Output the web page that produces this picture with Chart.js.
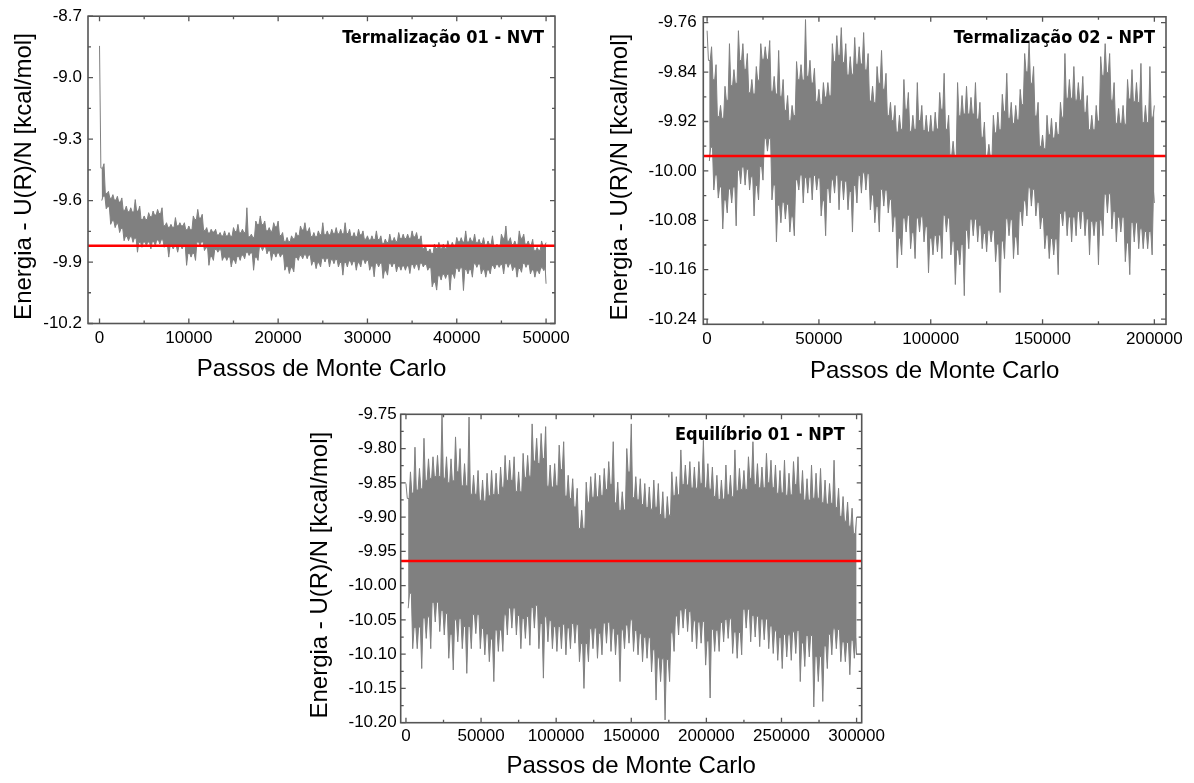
<!DOCTYPE html>
<html>
<head>
<meta charset="utf-8">
<script src="https://cdn.jsdelivr.net/npm/chart.js@4.4.1/dist/chart.umd.min.js"></script>
<style>
    html, body { margin: 0; padding: 0; background: #fff; }
    body { width: 1194px; height: 783px; position: relative; overflow: hidden; }
    canvas { position: absolute; }
</style>
</head>
<body>
<canvas id="nvt-chart" width="580" height="392" style="left:0px;top:0px"></canvas>
<canvas id="npt-chart" width="599" height="392" style="left:595px;top:0px"></canvas>
<canvas id="eq-chart" width="600" height="391" style="left:290px;top:392px"></canvas>
<script>
/**
 * Monte Carlo energy traces: upper / lower envelope read every N steps.
 */

// Termalização 01 - NVT, one sample every 500 steps (0 .. 50000)
const nvtStep = 500;
const nvtHi = [
    -8.845, -9.420, -9.555, -9.571, -9.579, -9.587, -9.627, -9.635, -9.595, -9.627,
    -9.675, -9.659, -9.651, -9.643, -9.635, -9.708, -9.716, -9.683, -9.708, -9.708,
    -9.724, -9.675, -9.643, -9.667, -9.732, -9.740, -9.740, -9.756, -9.748, -9.756,
    -9.732, -9.716, -9.740, -9.635, -9.764, -9.700, -9.675, -9.700, -9.732, -9.708,
    -9.700, -9.756, -9.780, -9.772, -9.756, -9.724, -9.708, -9.732, -9.756, -9.748,
    -9.708, -9.748, -9.740, -9.732, -9.740, -9.708, -9.740, -9.756, -9.740, -9.748,
    -9.772, -9.772, -9.748, -9.772, -9.788, -9.764, -9.780, -9.756, -9.764, -9.764,
    -9.748, -9.756, -9.772, -9.820, -9.836, -9.812, -9.804, -9.812, -9.796, -9.804,
    -9.780, -9.781, -9.748, -9.781, -9.764, -9.789, -9.781, -9.797, -9.772, -9.813,
    -9.764, -9.724, -9.781, -9.797, -9.748, -9.764, -9.797, -9.789, -9.829, -9.797,
    -9.805,
];
const nvtLo = [
    -9.600, -9.640, -9.716, -9.732, -9.756, -9.796, -9.796, -9.804, -9.852, -9.828,
    -9.820, -9.836, -9.820, -9.812, -9.828, -9.876, -9.836, -9.852, -9.836, -9.916,
    -9.876, -9.892, -9.820, -9.844, -9.916, -9.892, -9.852, -9.892, -9.892, -9.924,
    -9.908, -9.892, -9.884, -9.868, -9.940, -9.892, -9.844, -9.860, -9.892, -9.876,
    -9.876, -9.940, -9.956, -9.948, -9.892, -9.884, -9.884, -9.916, -9.932, -9.924,
    -9.900, -9.924, -9.908, -9.924, -9.964, -9.924, -9.916, -9.940, -9.924, -9.908,
    -9.940, -9.972, -9.924, -9.980, -9.964, -9.924, -9.948, -9.940, -9.940, -9.956,
    -9.932, -9.940, -9.924, -9.940, -10.021, -10.037, -9.988, -9.980, -10.037, -9.980,
    -9.948, -10.039, -9.958, -9.974, -9.926, -9.958, -9.974, -9.958, -9.934, -9.926,
    -9.958, -9.926, -9.942, -9.974, -9.950, -9.926, -9.958, -9.974, -9.958, -9.942,
    -10.006,
];
const nvtMean = -9.82;

// Termalização 02 - NPT, one sample every 2000 steps (0 .. 200000)
const nptStep = 2000;
const nptHi = [
    -9.773, -9.799, -9.828, -9.894, -9.863, -9.794, -9.836, -9.773, -9.794, -9.810,
    -9.852, -9.831, -9.794, -9.799, -9.789, -9.847, -9.805, -9.852, -9.878, -9.894,
    -9.823, -9.828, -9.755, -9.821, -9.834, -9.868, -9.857, -9.857, -9.794, -9.781,
    -9.768, -9.794, -9.815, -9.784, -9.799, -9.776, -9.810, -9.863, -9.831, -9.805,
    -9.842, -9.889, -9.894, -9.910, -9.852, -9.873, -9.910, -9.857, -9.894, -9.910,
    -9.910, -9.905, -9.873, -9.842, -9.910, -9.952, -9.857, -9.878, -9.863, -9.881,
    -9.857, -9.889, -9.921, -9.957, -9.910, -9.905, -9.876, -9.842, -9.889, -9.894,
    -9.868, -9.810, -9.789, -9.831, -9.889, -9.942, -9.910, -9.915, -9.921, -9.889,
    -9.810, -9.852, -9.831, -9.857, -9.847, -9.878, -9.910, -9.894, -9.815, -9.794,
    -9.810, -9.857, -9.899, -9.894, -9.852, -9.836, -9.857, -9.826, -9.894, -9.831,
    -9.894,
];
const nptLo = [
    -9.984, -10.031, -10.044, -10.094, -10.068, -10.052, -10.089, -10.021, -10.023, -10.031,
    -10.073, -10.047, -10.015, -9.968, -10.047, -10.115, -10.084, -10.078, -10.099, -10.105,
    -10.031, -10.052, -10.036, -10.047, -10.031, -10.073, -10.105, -10.052, -10.036, -10.063,
    -10.047, -10.063, -10.099, -10.052, -10.036, -10.031, -10.063, -10.084, -10.099, -10.057,
    -10.068, -10.099, -10.157, -10.136, -10.099, -10.126, -10.142, -10.099, -10.115, -10.165,
    -10.136, -10.131, -10.142, -10.099, -10.136, -10.184, -10.152, -10.202, -10.126, -10.105,
    -10.115, -10.126, -10.131, -10.115, -10.147, -10.197, -10.142, -10.105, -10.142, -10.136,
    -10.089, -10.073, -10.057, -10.073, -10.094, -10.126, -10.142, -10.136, -10.168, -10.089,
    -10.105, -10.115, -10.105, -10.094, -10.105, -10.136, -10.105, -10.152, -10.105, -10.068,
    -10.094, -10.115, -10.099, -10.147, -10.168, -10.115, -10.126, -10.126, -10.126, -10.136,
    -10.052,
];
const nptMean = -9.976;

// Equilíbrio 01 - NPT, one sample every 3000 steps (0 .. 300000)
const eqStep = 3000;
const eqHi = [
    -9.851, -9.834, -9.798, -9.829, -9.785, -9.815, -9.812, -9.810, -9.751, -9.812,
    -9.815, -9.783, -9.800, -9.822, -9.754, -9.839, -9.832, -9.846, -9.836, -9.832,
    -9.836, -9.827, -9.810, -9.817, -9.812, -9.834, -9.807, -9.810, -9.764, -9.785,
    -9.778, -9.768, -9.824, -9.822, -9.795, -9.790, -9.839, -9.844, -9.858, -9.890,
    -9.849, -9.841, -9.836, -9.839, -9.829, -9.819, -9.790, -9.849, -9.863, -9.800,
    -9.764, -9.841, -9.844, -9.851, -9.856, -9.846, -9.851, -9.863, -9.870, -9.834,
    -9.841, -9.802, -9.824, -9.819, -9.827, -9.819, -9.788, -9.822, -9.827, -9.839,
    -9.846, -9.824, -9.839, -9.802, -9.829, -9.832, -9.812, -9.790, -9.822, -9.827,
    -9.807, -9.817, -9.824, -9.832, -9.817, -9.836, -9.819, -9.812, -9.832, -9.844,
    -9.824, -9.836, -9.829, -9.846, -9.851, -9.817, -9.858, -9.870, -9.878, -9.887,
    -9.900,
];
const eqLo = [
    -10.033, -10.092, -10.092, -10.121, -10.077, -10.092, -10.053, -10.067, -10.072, -10.106,
    -10.123, -10.082, -10.092, -10.128, -10.092, -10.070, -10.092, -10.101, -10.111, -10.140,
    -10.096, -10.096, -10.072, -10.062, -10.072, -10.092, -10.077, -10.087, -10.062, -10.092,
    -10.135, -10.082, -10.092, -10.096, -10.092, -10.101, -10.092, -10.084, -10.111, -10.150,
    -10.111, -10.092, -10.106, -10.101, -10.084, -10.096, -10.101, -10.140, -10.092, -10.084,
    -10.096, -10.101, -10.111, -10.106, -10.126, -10.167, -10.140, -10.196, -10.140, -10.096,
    -10.072, -10.062, -10.067, -10.082, -10.092, -10.084, -10.116, -10.164, -10.096, -10.096,
    -10.082, -10.077, -10.099, -10.106, -10.101, -10.062, -10.082, -10.075, -10.089, -10.079,
    -10.092, -10.099, -10.109, -10.121, -10.104, -10.109, -10.099, -10.140, -10.118, -10.104,
    -10.177, -10.140, -10.169, -10.121, -10.101, -10.092, -10.111, -10.111, -10.130, -10.106,
    -10.101,
];
const eqMean = -9.964;

// Axis ticks
const nvtXTicks = [0, 10000, 20000, 30000, 40000, 50000];
const nvtYTicks = [-8.7, -9.0, -9.3, -9.6, -9.9, -10.2];
const nptXTicks = [0, 50000, 100000, 150000, 200000];
const nptYTicks = [-9.76, -9.84, -9.92, -10.00, -10.08, -10.16, -10.24];
const eqXTicks = [0, 50000, 100000, 150000, 200000, 250000, 300000];
const eqYTicks = [-9.75, -9.80, -9.85, -9.90, -9.95, -10.00, -10.05, -10.10, -10.15, -10.20];

const xTitle = 'Passos de Monte Carlo';
// two trailing spaces nudge the rotated title down a little, as in the original
const yTitle = 'Energia - U(R)/N [kcal/mol]  ';

const sansFont = "'Liberation Sans', Arial, sans-serif";
const boxFont = "'DejaVu Sans Condensed', 'DejaVu Sans', sans-serif";
const frameColor = '#555555';
const traceColor = '#808080';
const needle = 0.3;     // half width of a needle, in steps
const notch = 0.12;     // how far the gap between needles dips into the band

// Upper edge: a needle at every sample, with a shallow notch between neighbours
function upperEdge(step, hi, lo) {
    const n = hi.length;
    const valley = (a) => {
        const top = Math.min(hi[a], hi[a + 1]);
        const bot = Math.max(lo[a], lo[a + 1]);
        return top - notch * (top - bot);
    };
    const pts = [];
    for (let k = 0; k < n; k++) {
        const x = k * step;
        if (k > 0) pts.push({ x: x - needle * step, y: valley(k - 1) });
        pts.push({ x, y: hi[k] });
        if (k < n - 1) pts.push({ x: x + needle * step, y: valley(k) });
    }
    return pts;
}

// Lower edge, offset by half a step so the down needles sit between the up ones
function lowerEdge(step, hi, lo) {
    const n = lo.length;
    const valley = (a) => {
        const top = Math.min(hi[a], hi[a + 1]);
        const bot = Math.max(lo[a], lo[a + 1]);
        return bot + notch * (top - bot);
    };
    const pts = [];
    for (let k = 0; k < n; k++) {
        const x = k < n - 1 ? k * step + step / 2 : k * step;
        if (k > 0 && k < n - 1) pts.push({ x: x - needle * step, y: valley(k - 1) });
        pts.push({ x, y: lo[k] });
        if (k < n - 1) pts.push({ x: x + needle * step, y: valley(k) });
    }
    return pts;
}

// Frame with inward major/minor ticks on all four sides, plus the run label
const frameTicks = {
    id: 'frameTicks',
    afterDatasetsDraw(chart, args, opts) {
        const { ctx, chartArea: a, scales: { x, y } } = chart;
        const withMinor = (ticks) => {
            const vals = ticks.map(t => t.value);
            const out = vals.map(v => ({ v, len: 5 }));
            for (let i = 1; i < vals.length; i++) out.push({ v: (vals[i] + vals[i - 1]) / 2, len: 3 });
            return out;
        };
        ctx.save();
        ctx.strokeStyle = frameColor;
        ctx.lineWidth = 1.3;
        ctx.beginPath();
        withMinor(x.ticks).forEach(({ v, len }) => {
            const px = x.getPixelForValue(v);
            ctx.moveTo(px, a.bottom); ctx.lineTo(px, a.bottom - len);
            ctx.moveTo(px, a.top); ctx.lineTo(px, a.top + len);
        });
        withMinor(y.ticks).forEach(({ v, len }) => {
            const py = y.getPixelForValue(v);
            ctx.moveTo(a.left, py); ctx.lineTo(a.left + len, py);
            ctx.moveTo(a.right, py); ctx.lineTo(a.right - len, py);
        });
        ctx.stroke();
        ctx.lineWidth = 1.6;
        ctx.strokeRect(a.left, a.top, a.right - a.left, a.bottom - a.top);

        ctx.fillStyle = '#000';
        ctx.font = `bold 18px ${boxFont}`;
        ctx.textAlign = 'right';
        ctx.textBaseline = 'middle';
        ctx.fillText(opts.text, a.right - opts.dx, a.top + opts.dy);
        ctx.restore();
    },
};

function drawTrace(id, c) {
    const ctx = document.getElementById(id).getContext('2d');

    return new Chart(ctx, {
        type: 'line',
        data: {
            datasets: [
                {
                    label: 'média',
                    data: [{ x: c.xMin, y: c.mean }, { x: c.xMax, y: c.mean }],
                    borderColor: '#ff0000',
                    borderWidth: 2.5,
                    pointRadius: 0,
                    order: 0,
                },
                {
                    // upper envelope, filled down to the lower one
                    label: 'máximo',
                    data: upperEdge(c.step, c.hi, c.lo),
                    borderColor: traceColor,
                    backgroundColor: traceColor,
                    borderWidth: 1,
                    borderJoinStyle: 'bevel',
                    pointRadius: 0,
                    fill: '+1',
                    order: 1,
                },
                {
                    label: 'mínimo',
                    data: lowerEdge(c.step, c.hi, c.lo),
                    borderColor: traceColor,
                    borderWidth: 1,
                    borderJoinStyle: 'bevel',
                    pointRadius: 0,
                    fill: false,
                    order: 2,
                },
            ],
        },
        options: {
            responsive: false,
            animation: false,
            events: [],
            layout: { padding: { left: 0, top: c.padTop, right: c.padRight, bottom: 0 } },
            plugins: {
                legend: { display: false },
                tooltip: { enabled: false },
                frameTicks: { text: c.label, dx: c.labelDx, dy: c.labelDy },
            },
            scales: {
                x: {
                    type: 'linear',
                    min: c.xMin,
                    max: c.xMax,
                    afterBuildTicks: (axis) => { axis.ticks = c.xTicks.map(v => ({ value: v })); },
                    afterFit: (s) => { s.height = c.xHeight; },
                    grid: { display: false, drawTicks: false },
                    border: { display: false },
                    ticks: {
                        color: '#000',
                        font: { family: sansFont, size: 17 },
                        padding: c.xPad,
                        autoSkip: false,
                        maxRotation: 0,
                        callback: (v) => String(v),
                    },
                    title: {
                        display: true,
                        text: xTitle,
                        color: '#000',
                        font: { family: sansFont, size: 24, lineHeight: 1.2 },
                        padding: { top: 0, bottom: c.xTitlePad },
                    },
                },
                y: {
                    type: 'linear',
                    min: c.yMin,
                    max: c.yMax,
                    afterBuildTicks: (axis) => { axis.ticks = c.yTicks.map(v => ({ value: v })); },
                    afterFit: (s) => { s.width = c.yWidth; },
                    grid: { display: false, drawTicks: false },
                    border: { display: false },
                    ticks: {
                        color: '#000',
                        font: { family: sansFont, size: 17 },
                        padding: c.yPad,
                        autoSkip: false,
                        callback: (v) => v.toFixed(c.dec),
                    },
                    title: {
                        display: true,
                        text: yTitle,
                        color: '#000',
                        font: { family: sansFont, size: 24, lineHeight: 1.2 },
                        padding: { top: c.yTitlePad, bottom: 0 },
                    },
                },
            },
        },
        plugins: [frameTicks],
    });
}

drawTrace('nvt-chart', {
    step: nvtStep, hi: nvtHi, lo: nvtLo, mean: nvtMean,
    xMin: -1290, xMax: 51000, yMin: -10.2, yMax: -8.7,
    xTicks: nvtXTicks, yTicks: nvtYTicks, dec: 1,
    label: 'Termalização 01 - NVT', labelDx: 11, labelDy: 22,
    padTop: 13, padRight: 25, yWidth: 88, xHeight: 68.5,
    xPad: 5, yPad: 6, xTitlePad: 8.6, yTitlePad: 9.6,
});

drawTrace('npt-chart', {
    step: nptStep, hi: nptHi, lo: nptLo, mean: nptMean,
    xMin: -1700, xMax: 205200, yMin: -10.2484, yMax: -9.7505,
    xTicks: nptXTicks, yTicks: nptYTicks, dec: 2,
    label: 'Termalização 02 - NPT', labelDx: 11, labelDy: 21.7,
    padTop: 9, padRight: 28, yWidth: 108.3, xHeight: 67.7,
    xPad: 4.5, yPad: 6.6, xTitlePad: 6.6, yTitlePad: 10.6,
});

drawTrace('eq-chart', {
    step: eqStep, hi: eqHi, lo: eqLo, mean: eqMean,
    xMin: -3500, xMax: 303400, yMin: -10.2, yMax: -9.75,
    xTicks: eqXTicks, yTicks: eqYTicks, dec: 2,
    label: 'Equilíbrio 01 - NPT', labelDx: 17, labelDy: 21,
    padTop: 22.3, padRight: 28.3, yWidth: 110.7, xHeight: 60.3,
    xPad: 3, yPad: 4, xTitlePad: 2.6, yTitlePad: 16.3,
});
</script>
</body>
</html>
